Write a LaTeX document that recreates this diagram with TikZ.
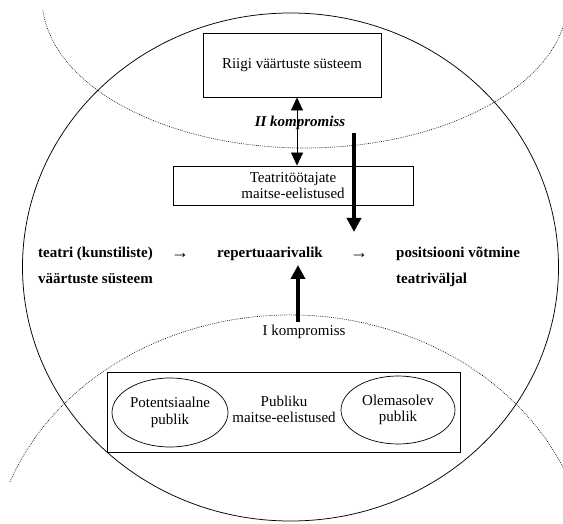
\documentclass[tikz,border=0pt]{standalone}
\usepackage{fontspec}
\setmainfont{Liberation Serif}
\usetikzlibrary{arrows.meta,shapes.geometric}
\begin{document}
\begin{tikzpicture}[x=1pt,y=1pt,
  every node/.style={font=\fontsize{15}{16.5}\selectfont, inner sep=0pt},
  framebox/.style={draw, line width=0.9pt, align=center},
  groupoval/.style={draw, ellipse, line width=0.7pt, align=center, inner sep=0pt},
  fieldline/.style={line width=0.75pt},
  dotline/.style={line width=0.6pt, dash pattern=on 0.8pt off 1.1pt},
  linkarrow/.style={line width=0.7pt, {Triangle[width=12pt,length=13pt]}-{Triangle[width=12pt,length=13pt]}},
  flowarrow/.style={line width=3.6pt, -{Triangle[width=14pt,length=14pt]}},
  rowtext/.style={font=\fontsize{15}{16.5}\selectfont\bfseries},
  chainarrow/.style={font=\fontsize{18}{18}\selectfont}]
\useasboundingbox (0,0) rectangle (563,523);
\clip (0,0) rectangle (563,523);

% theatre field and the two overlapping fields (state, audience)
\draw[fieldline] (290.5,256) ellipse [x radius=268pt, y radius=254pt];
\draw[dotline] (305,525) ++(184.5:263pt and 150pt)
  arc[start angle=184.5, end angle=360, x radius=263pt, y radius=150pt];
\draw[dotline] (290,-52) ++(159:300pt and 260pt)
  arc[start angle=159, end angle=0, x radius=300pt, y radius=260pt];

% state values and theatre staff
\node[framebox, minimum width=178pt, minimum height=64pt] (riigi) at (292,458) {Riigi väärtuste süsteem};
\node[framebox, minimum width=240pt, minimum height=39pt] (teatri) at (293,337.5) {Teatritöötajate\\maitse-eelistused};
\node[font=\fontsize{15}{16.5}\selectfont\bfseries\itshape] (komp2) at (300,400) {II kompromiss};

\coordinate (dblx) at (297,0);
\draw[linkarrow] (riigi.south -| dblx) -- (teatri.north -| dblx);

\coordinate (downtop) at (354,390);
\coordinate (downtip) at (354,291);
\draw[flowarrow] (downtop) -- (downtip);

% main chain
\node[rowtext, anchor=base west] (src1) at (38,265) {teatri (kunstiliste)};
\node[rowtext, anchor=base west] (src2) at (38,239) {väärtuste süsteem};
\node[chainarrow, anchor=base] (arr1) at (180,264) {→};
\node[rowtext, anchor=base] (choice) at (270,265) {repertuaarivalik};
\node[chainarrow, anchor=base] (arr2) at (359,264) {→};
\node[rowtext, anchor=base west] (pos1) at (396,265) {positsiooni võtmine};
\node[rowtext, anchor=base west] (pos2) at (396,239) {teatriväljal};

\coordinate (uptail) at (298,201);
\coordinate (uptip) at (298,258);
\draw[flowarrow] (uptail) -- (uptip);
\node (komp1) at (304,191) {I kompromiss};

% audience
\node[framebox, minimum width=353pt, minimum height=80pt] (publik) at (283.5,111) {};
\node[groupoval, minimum width=116pt, minimum height=69pt] (potent) at (170,110.5) {Potentsiaalne\\publik};
\node[groupoval, minimum width=114pt, minimum height=68pt] (exist) at (398,113) {Olemasolev\\publik};
\node[align=center] (pubtaste) at (284,113.5) {Publiku\\maitse-eelistused};
\end{tikzpicture}
\end{document}
